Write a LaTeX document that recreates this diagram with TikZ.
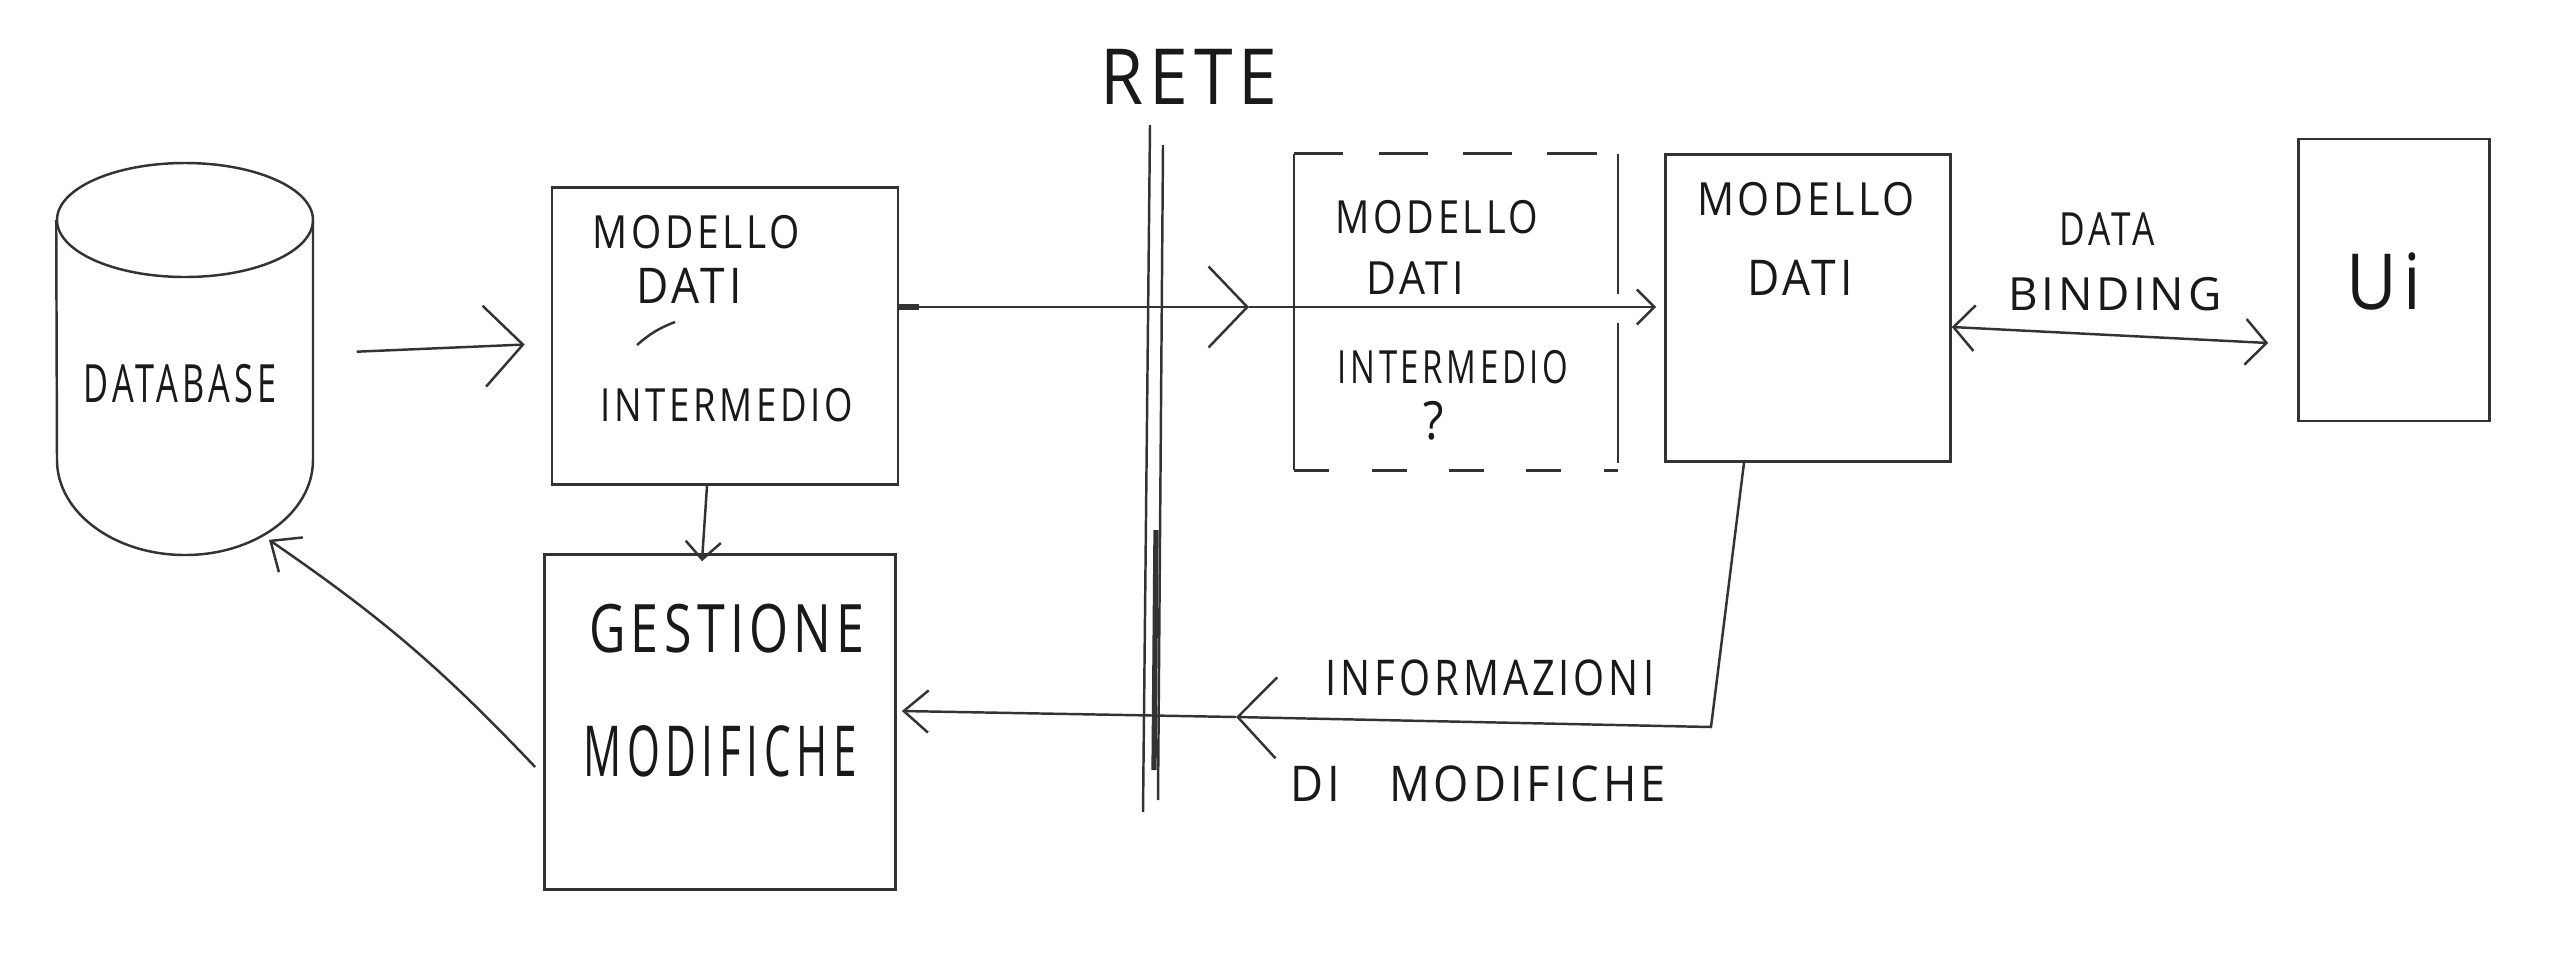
\documentclass[tikz,border=0pt]{standalone}
\usepackage{fontspec}
\setmainfont{Open Sans}
\usetikzlibrary{arrows.meta,calc}
\begin{document}
\begin{tikzpicture}[x=0.01cm,y=-0.01cm,
  ink/.style={draw=black!80, line width=0.7pt},
  boxnode/.style={ink, inner sep=0pt},
  hw/.style={text=black!90, inner sep=0pt},
  fs/.style 2 args={font=\fontsize{#1}{#1}\selectfont\addfontfeature{LetterSpace=8,FakeStretch=#2}},
  bigbarb/.style={-{Straight Barb[length=11pt,width=23pt]}},
  midbarb/.style={-{Straight Barb[length=7pt,width=12pt]}},
  smallbarb/.style={-{Straight Barb[length=5pt,width=10pt]}}
]
\useasboundingbox[fill=white] (0,0) rectangle (2560,978);

% boxes
\node[boxnode, minimum width=3.46cm, minimum height=2.97cm] (mdi) at (725,336) {};
\node[boxnode, minimum width=3.51cm, minimum height=3.35cm] (gest) at (720,722) {};
\node[inner sep=0pt, minimum width=3.22cm, minimum height=3.15cm] (mdi2) at (1456,312) {};
\node[boxnode, minimum width=2.85cm, minimum height=3.07cm] (md) at (1808,308) {};
\node[boxnode, minimum width=1.91cm, minimum height=2.82cm] (ui) at (2394,280) {};
\node[inner sep=0pt, minimum width=2.56cm, minimum height=3.92cm] (db) at (185,359) {};

% database cylinder
\draw[ink] (185,220) ellipse [x radius=128, y radius=57];
\draw[ink] (db.north west |- 0,220) -- (57,460)
  arc [start angle=180, end angle=0, x radius=128, y radius=95] -- (313,220);

% dashed intermediate box
\draw[ink] (mdi2.north west) -- (mdi2.south west);
\draw[ink, dash pattern=on 14pt off 10pt] (mdi2.north west) -- (mdi2.north east);
\draw[ink, dash pattern=on 40pt off 8pt] (mdi2.north east) -- (mdi2.south east);
\draw[ink, dash pattern=on 10pt off 12pt] (mdi2.south west) -- (mdi2.south east);

% network lines
\coordinate (n1t) at (1150,125); \coordinate (n1b) at (1143,812);
\coordinate (n2t) at (1163,145); \coordinate (n2b) at (1158,800);
\coordinate (n3t) at (1156,530); \coordinate (n3b) at (1154,770);
\draw[ink] (n1t) -- (n1b);
\draw[ink] (n2t) -- (n2b);
\draw[ink, line width=1.5pt] (n3t) -- (n3b);

% texts
\node[hw, fs={22}{0.9}] (rete) at (1189,77) {RETE};
\node[hw, fs={15}{0.65}] (tdb) at (180,384) {DATABASE};
\node[hw, fs={13}{0.85}] (t1) at (696,232) {MODELLO};
\node[hw, fs={14}{0.9}] (t2) at (689,286) {DATI};
\node[hw, fs={13}{0.8}] (t3) at (727,405) {INTERMEDIO};
\node[hw, fs={19}{0.75}] (t4) at (727,629) {GESTIONE};
\node[hw, fs={20}{0.6}] (t5) at (720,751) {MODIFICHE};
\node[hw, fs={13}{0.83}] (t6) at (1437,217) {MODELLO};
\node[hw, fs={13}{0.9}] (t7) at (1415,278) {DATI};
\node[hw, fs={13}{0.72}] (t8) at (1453,367) {INTERMEDIO};
\node[hw, fs={15}{0.9}] (t9) at (1434,421) {?};
\node[hw, fs={13}{0.9}] (t10) at (1806,199) {MODELLO};
\node[hw, fs={14}{0.9}] (t11) at (1800,278) {DATI};
\node[hw, fs={13}{0.77}] (t12) at (2107,229) {DATA};
\node[hw, fs={13}{1}] (t13) at (2115,294) {BINDING};
\node[hw, fs={22}{0.9}] (t14) at (2384,281) {Ui};
\node[hw, fs={14}{0.81}] (t15) at (1490,678) {INFORMAZIONI};
\node[hw, fs={14}{0.92}] (t16) at (1478,784) {DI\quad MODIFICHE};

% small stroke inside first box
\coordinate (s1) at (637,345); \coordinate (s2) at (675,322);
\draw[ink] (s1) to[bend left=10] (s2);

% connectors
\draw[ink, bigbarb, shorten <=43*0.01cm, shorten >=26*0.01cm] (db) -- (mdi);
\draw[ink, smallbarb] ($(mdi.south)+(-18,0)$) -- ($(gest.north)+(-18,8)$);
\coordinate (c1) at (1249,307);
\draw[ink, bigbarb] ($(mdi.east)+(0,-29)$) -- (c1);
\draw[ink, line width=1.6pt] ($(mdi.east)+(0,-29)$) -- ++(20,0);
\draw[ink, smallbarb] (c1) -- ($(md.west)+(-8,-1)$);
\coordinate (c2) at (1711,727);
\coordinate (c3) at (1236,717);
\draw[ink, bigbarb] ($(md.south)+(-64,0)$) -- (c2) -- (c3);
\draw[ink, midbarb] (c3) -- ($(gest.east)+(5,-11)$);
\draw[ink, midbarb] ($(gest.west)+(-8,45)$) to[bend right=6] ($(db.south)+(84,-16)$);
\draw[ink, {Straight Barb[length=6pt,width=13pt]}-{Straight Barb[length=6pt,width=13pt]}]
  ($(md.east)+(0,19)$) -- ($(ui.west)+(-29,63)$);
\end{tikzpicture}
\end{document}
